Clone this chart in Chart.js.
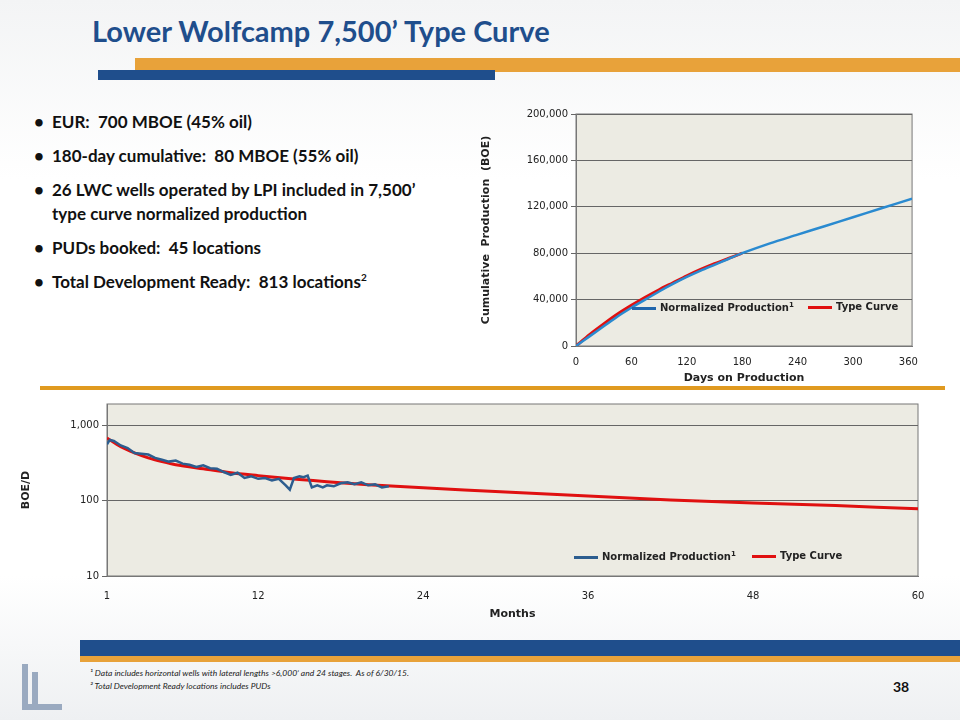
<!DOCTYPE html>
<html>
<head>
<meta charset="utf-8">
<script src="https://cdn.jsdelivr.net/npm/chart.js@4"></script>
<style>
  body { margin: 0; width: 960px; height: 720px; position: relative; overflow: hidden;
         font-family: Lato, "Open Sans", sans-serif;
         background: linear-gradient(180deg, #f3f4f5 0%, #ffffff 25%, #ffffff 80%, #eef0f2 100%); }
  .abs { position: absolute; }
  #title { left: 92px; top: 13px; font-size: 29px; font-weight: bold; color: #1f4e8c; }
  ul { position: absolute; left: 32px; top: 110px; width: 400px; margin: 0; padding: 0; list-style: none;
       font-size: 17px; font-weight: bold; color: #111; }
  li { position: relative; padding-left: 20px; margin-bottom: 10px; line-height: 24px; }
  li:before { content: "\2022"; position: absolute; left: 2px; }
  li sup { font-size: 10px; line-height: 0; }
  .leg { font: bold 10px "DejaVu Sans", sans-serif; color: #222; white-space: nowrap; }
  .leg i { display: inline-block; width: 24px; height: 3px; vertical-align: middle; margin-right: 4px; }
  .leg sup { font-size: 7px; }
  .foot { font-size: 8.5px; font-style: italic; color: #222; }
</style>
</head>
<body>
<div class="abs" style="left:135px;top:58px;width:825px;height:14px;background:#e8a23a;"></div>
<div class="abs" style="left:98px;top:70px;width:397px;height:10px;background:#1f4e8c;"></div>
<div id="title" class="abs">Lower Wolfcamp 7,500’ Type Curve</div>

<ul>
  <li>EUR:&nbsp; 700 MBOE (45% oil)</li>
  <li>180-day cumulative:&nbsp; 80 MBOE (55% oil)</li>
  <li>26 LWC wells operated by LPI included in 7,500’ type curve normalized production</li>
  <li>PUDs booked:&nbsp; 45 locations</li>
  <li>Total Development Ready:&nbsp; 813 locations<sup>2</sup></li>
</ul>

<div class="abs" style="left:40px;top:386px;width:905px;height:4px;background:#e09a20;"></div>

<canvas id="cum" class="abs" style="left:480px;top:105px;width:440px;height:280px;" width="440" height="280"></canvas>
<div class="abs leg" style="left:632px;top:301px;"><i style="background:#2166ac"></i>Normalized Production<sup>1</sup></div>
<div class="abs leg" style="left:808px;top:301px;"><i style="background:#e01010"></i>Type Curve</div>

<canvas id="rate" class="abs" style="left:20px;top:395px;width:920px;height:230px;" width="920" height="230"></canvas>
<div class="abs leg" style="left:574px;top:550px;"><i style="background:#2c5d8f"></i>Normalized Production<sup>1</sup></div>
<div class="abs leg" style="left:752px;top:550px;"><i style="background:#e01010"></i>Type Curve</div>

<div class="abs" style="left:80px;top:640px;width:880px;height:16px;background:#1f4e8c;"></div>
<div class="abs" style="left:80px;top:656px;width:880px;height:6px;background:#e8a23a;"></div>
<div class="abs foot" style="left:90px;top:668px;">¹ Data includes horizontal wells with lateral lengths &gt;6,000’ and 24 stages.&nbsp; As of 6/30/15.</div>
<div class="abs foot" style="left:90px;top:681px;">² Total Development Ready locations includes PUDs</div>
<div class="abs" style="left:893px;top:678px;font-size:14px;font-weight:bold;color:#111;">38</div>
<div class="abs" style="left:22px;top:664px;width:6px;height:46px;background:#9aaac0;"></div>
<div class="abs" style="left:32px;top:672px;width:6px;height:38px;background:#9aaac0;"></div>
<div class="abs" style="left:22px;top:704px;width:40px;height:6px;background:#9aaac0;"></div>

<script>
// top chart: cumulative production (BOE) vs days
const cumDays = [0, 15, 30, 45, 60, 75, 90, 105, 120, 135, 150, 165, 180, 210, 240, 270, 300, 330, 364];
const cumNormalized = [0, 8500, 17000, 25500, 33000, 40000, 47000, 53500, 59500, 65000, 70000, 75000, 80000, 88500, 96000, 103500, 111000, 118500, 127000];
const tcDays = [0, 15, 30, 45, 60, 75, 90, 105, 120, 135, 150, 165, 180];
const cumTypeCurve = [0, 10000, 19000, 27500, 35000, 42000, 48500, 54500, 60500, 66000, 71000, 75500, 80000];
const cumYTicks = [0, 40000, 80000, 120000, 160000, 200000];
const cumXTicks = [0, 60, 120, 180, 240, 300, 360];

// bottom chart: BOE/D vs months
const normMonths = [1, 1.2, 1.5, 2, 2.5, 3, 3.5, 4, 4.5, 5, 5.5, 6, 6.5, 7, 7.5, 8, 8.5, 9, 9.5, 10, 10.5, 11, 11.5, 12, 12.5, 13, 13.5, 14, 14.3, 14.6, 15, 15.3, 15.6, 15.9, 16.3, 16.7, 17, 17.5, 18, 18.5, 19, 19.5, 20, 20.5, 21, 21.5];
const normRate = [560, 640, 620, 540, 500, 430, 420, 410, 370, 350, 330, 340, 310, 300, 280, 295, 270, 265, 240, 220, 235, 200, 210, 195, 200, 185, 195, 160, 140, 200, 210, 205, 215, 150, 160, 150, 160, 155, 170, 175, 165, 175, 160, 165, 150, 155];
const tcMonths = [1, 2, 3, 4, 5, 6, 8, 10, 12, 14, 16, 18, 20, 24, 30, 36, 42, 48, 54, 60];
const tcRate = [680, 520, 430, 370, 330, 300, 265, 235, 215, 198, 185, 173, 163, 148, 130, 115, 102, 93, 86, 78];
const rateYTicks = [10, 100, 1000];
const rateXTicks = [1, 12, 24, 36, 48, 60];

const plotBg = {
  id: 'plotBg',
  beforeDraw(chart) {
    const a = chart.chartArea, c = chart.ctx;
    c.save();
    c.fillStyle = '#ecebe3';
    c.fillRect(a.left, a.top, a.width, a.height);
    c.strokeStyle = '#777';
    c.lineWidth = 1;
    c.strokeRect(a.left, a.top, a.width, a.height);
    c.restore();
  }
};

function pts(xs, ys) { return xs.map((x, i) => ({ x: x, y: ys[i] })); }
const tickFont = { family: '"DejaVu Sans", sans-serif', size: 10 };
const titleFont = { family: '"DejaVu Sans", sans-serif', size: 11, weight: 'bold' };

new Chart(document.getElementById('cum'), {
  type: 'line',
  data: {
    datasets: [
      { data: pts(cumDays, cumNormalized), borderColor: '#2a8ad0', borderWidth: 2.5, pointRadius: 0, tension: 0.3 },
      { data: pts(tcDays, cumTypeCurve), borderColor: '#e01010', borderWidth: 3, pointRadius: 0, tension: 0.3 }
    ]
  },
  options: {
    responsive: false, animation: false,
    layout: { padding: { top: 8, right: 7 } },
    plugins: { legend: { display: false }, tooltip: { enabled: false } },
    scales: {
      x: {
        type: 'linear', min: 0, max: 364,
        afterBuildTicks: s => { s.ticks = cumXTicks.map(v => ({ value: v })); },
        afterFit: s => { s.height = 39; },
        grid: { display: false },
        border: { color: '#777' },
        ticks: { color: '#222', font: tickFont, maxRotation: 0, padding: 2 },
        title: { display: true, text: 'Days on Production', color: '#222', font: titleFont, padding: 0 }
      },
      y: {
        min: 0, max: 200000,
        afterBuildTicks: s => { s.ticks = cumYTicks.map(v => ({ value: v })); },
        afterFit: s => { s.width = 96; },
        grid: { color: '#666', drawTicks: true, tickLength: 5 },
        border: { color: '#777' },
        ticks: { color: '#222', font: tickFont, callback: v => v.toLocaleString('en-US') },
        title: { display: true, text: 'Cumulative  Production  (BOE)', color: '#222', font: titleFont, padding: 0 }
      }
    }
  },
  plugins: [plotBg]
});

new Chart(document.getElementById('rate'), {
  type: 'line',
  data: {
    datasets: [
      { data: pts(normMonths, normRate), borderColor: '#2c5d8f', borderWidth: 2.5, pointRadius: 0, tension: 0 },
      { data: pts(tcMonths, tcRate), borderColor: '#e01010', borderWidth: 3, pointRadius: 0, tension: 0.3 }
    ]
  },
  options: {
    responsive: false, animation: false,
    layout: { padding: { top: 4, right: 22 } },
    plugins: { legend: { display: false }, tooltip: { enabled: false } },
    scales: {
      x: {
        type: 'linear', min: 1, max: 60,
        afterBuildTicks: s => { s.ticks = rateXTicks.map(v => ({ value: v })); },
        afterFit: s => { s.height = 49; },
        grid: { display: false },
        border: { color: '#777' },
        ticks: { color: '#222', font: tickFont, maxRotation: 0, padding: 6 },
        title: { display: true, text: 'Months', color: '#222', font: titleFont, padding: { top: 8 } }
      },
      y: {
        type: 'logarithmic', min: 10, max: 1920,
        afterBuildTicks: s => { s.ticks = rateYTicks.map(v => ({ value: v })); },
        afterFit: s => { s.width = 87; },
        grid: { color: '#666', tickLength: 5 },
        border: { color: '#777' },
        ticks: { color: '#222', font: tickFont, callback: v => v.toLocaleString('en-US') },
        title: { display: true, text: 'BOE/D', color: '#222', font: titleFont, padding: 0 }
      }
    }
  },
  plugins: [plotBg]
});
</script>
</body>
</html>
